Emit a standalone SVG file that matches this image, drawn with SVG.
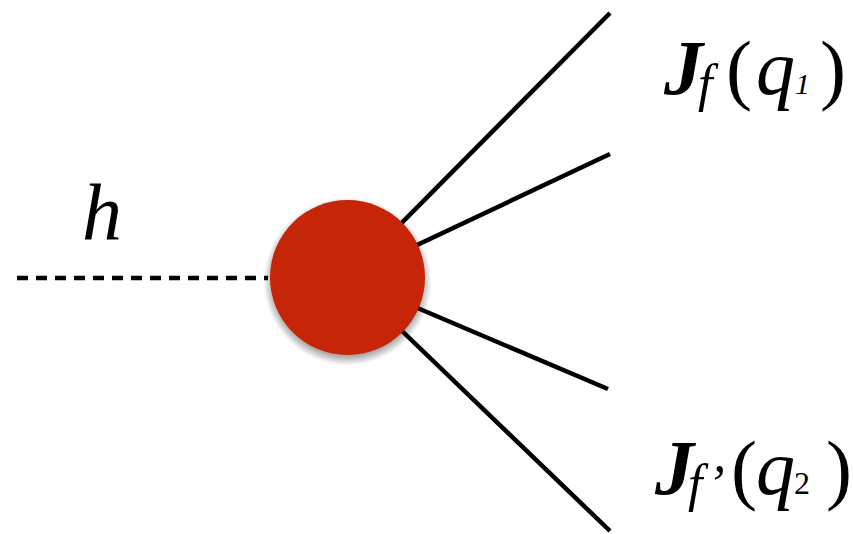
<svg xmlns="http://www.w3.org/2000/svg" width="853" height="534" viewBox="0 0 853 534">
  <defs>
    <radialGradient id="shade" cx="0.5" cy="0.5" r="0.5">
      <stop offset="0.88" stop-color="#000" stop-opacity="0.35"/>
      <stop offset="1" stop-color="#000" stop-opacity="0"/>
    </radialGradient>
  </defs>
  <rect width="853" height="534" fill="#fff"/>
  <g id="connectors" stroke="#000" stroke-width="4.5" fill="none">
    <line x1="17" y1="278" x2="268" y2="278" stroke-dasharray="11 8"/>
    <line x1="347" y1="278" x2="610" y2="13"/>
    <line x1="347" y1="278" x2="610" y2="154"/>
    <line x1="347" y1="278" x2="608" y2="389"/>
    <line x1="347" y1="278" x2="610" y2="531"/>
  </g>
  <g id="vertex">
    <circle cx="347.5" cy="281.5" r="84" fill="url(#shade)"/>
    <circle cx="347.5" cy="277.5" r="77.5" fill="#C72508"/>
  </g>
  <text id="label-h" x="82" y="239" style="font-family:'Times New Roman','Liberation Serif',serif" font-size="80" font-style="italic">h</text>
  <text id="label-jet1" style="font-family:'Times New Roman','Liberation Serif',serif" font-size="78"><tspan x="664" y="94" font-weight="bold" font-style="italic">J</tspan><tspan x="698" y="101" font-size="52" font-style="italic">f</tspan><tspan x="726" y="95">(</tspan><tspan x="756" y="94" font-style="italic">q</tspan><tspan x="795" y="94" font-size="30" font-style="italic">1</tspan><tspan x="820" y="95">)</tspan></text>
  <text id="label-jet2" style="font-family:'Times New Roman','Liberation Serif',serif" font-size="78"><tspan x="655" y="494" font-weight="bold" font-style="italic">J</tspan><tspan x="688" y="501" font-size="52" font-style="italic">f&#8217;</tspan><tspan x="731" y="495">(</tspan><tspan x="756" y="494" font-style="italic">q</tspan><tspan x="794" y="494" font-size="32">2</tspan><tspan x="826" y="495">)</tspan></text>
</svg>
